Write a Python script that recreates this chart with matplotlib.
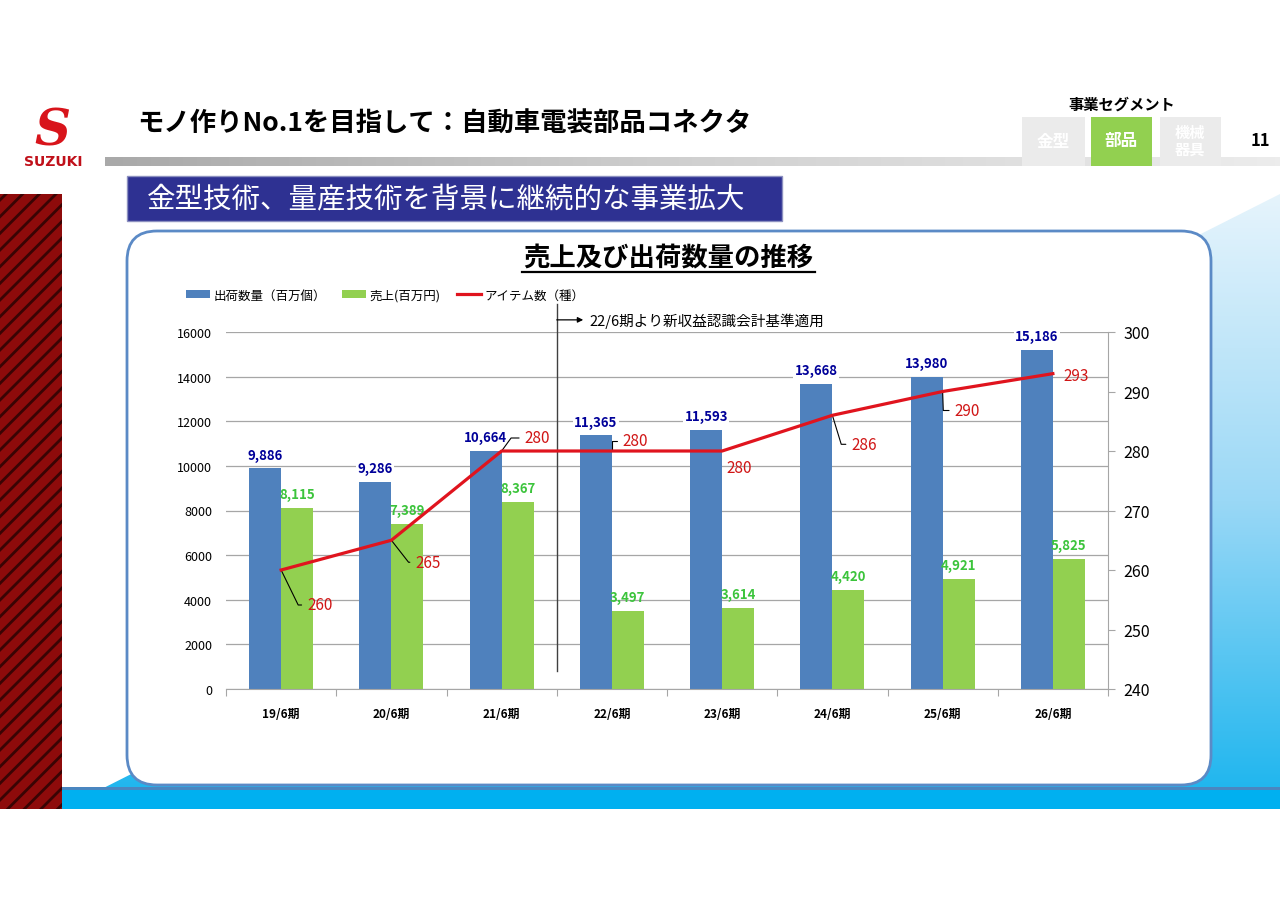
import numpy as np
import matplotlib
matplotlib.use('Agg')
import matplotlib.pyplot as plt
from matplotlib.patches import Rectangle, FancyBboxPatch, Polygon, Patch
from matplotlib.lines import Line2D
from matplotlib.colors import LinearSegmentedColormap

plt.rcParams['font.family'] = ['Noto Sans CJK JP', 'DejaVu Sans']
plt.rcParams['hatch.linewidth'] = 2

# データ
periods = ['19/6期', '20/6期', '21/6期', '22/6期', '23/6期', '24/6期', '25/6期', '26/6期']
shipments = [9886, 9286, 10664, 11365, 11593, 13668, 13980, 15186]   # 出荷数量（百万個）
sales = [8115, 7389, 8367, 3497, 3614, 4420, 4921, 5825]             # 売上(百万円)
items = [260, 265, 280, 280, 280, 286, 290, 293]                     # アイテム数（種）

# アイテム数ラベルの位置 (px: 右方向, 上方向) と引き出し線の角度
item_offsets = [(26, -35), (24, -22), (23, 13), (11, 10), (4, -17), (19, -29), (12, -19), (11, -2)]
item_leader = [-64, -52, 54, 90, None, -73, -88, None]

fig = plt.figure(figsize=(12.8, 9.04), dpi=100)

# ---- 背景 (スライド) ----
bg = fig.add_axes([0, 0, 1, 1], zorder=0)
bg.set_xlim(0, 1280)
bg.set_ylim(904, 0)
bg.axis('off')

# 右下の水色グラデーション
cmap = LinearSegmentedColormap.from_list('bl', ['#E6F4FC', '#9AD8F6', '#18B4EE'])
grad = np.linspace(0, 1, 256).reshape(-1, 1)
im = bg.imshow(grad, extent=(62, 1280, 810, 195), cmap=cmap, aspect='auto', zorder=0)
tri = Polygon([(62, 810), (1280, 195), (1280, 810)], closed=True, fc='none', ec='none')
bg.add_patch(tri)
im.set_clip_path(tri)
bg.add_patch(Rectangle((62, 790), 1218, 20, fc='#00B0F0', ec='none', zorder=1))
bg.add_patch(Rectangle((62, 788), 1218, 3, fc='#4A86C0', ec='none', zorder=1))

# 左側の画像部分 (近似)
bg.add_patch(Rectangle((0, 195), 62, 615, fc='#8E0B0B', ec='#3A0404', hatch='//', lw=0, zorder=1))

# タイトル下の灰色バー
hgrad = np.linspace(0, 1, 256).reshape(1, -1)
gcmap = LinearSegmentedColormap.from_list('gr', ['#A9A9A9', '#D0D0D0', '#ECECEC'])
bg.imshow(hgrad, extent=(105, 1280, 167, 158), cmap=gcmap, aspect='auto', zorder=1)

# ロゴ
bg.text(52, 132, 'S', fontsize=36, fontweight='bold', fontstyle='italic', color='#D8141B',
        ha='center', va='center', family=['DejaVu Serif'], zorder=2)
bg.text(53, 162, 'SUZUKI', fontsize=10, fontweight='bold', color='#C0101A',
        ha='center', va='center', family=['DejaVu Sans'], zorder=2)

bg.text(137, 124, 'モノ作りNo.1を目指して：自動車電装部品コネクタ', fontsize=19,
        fontweight='bold', va='center', zorder=2)

bg.add_patch(Rectangle((127, 177), 655, 45, fc='#2E3192', ec='#8C90C0', lw=1, zorder=2))
bg.text(147, 199, '金型技術、量産技術を背景に継続的な事業拡大', fontsize=20.5,
        color='white', va='center', zorder=3)

# 事業セグメント
bg.text(1122, 105, '事業セグメント', fontsize=11, fontweight='bold', ha='center', va='center')
bg.add_patch(Rectangle((1022, 118), 63, 49, fc='#EBEBEB', ec='none', zorder=2))
bg.add_patch(Rectangle((1091, 118), 61, 49, fc='#92D050', ec='none', zorder=2))
bg.add_patch(Rectangle((1160, 118), 61, 49, fc='#EBEBEB', ec='none', zorder=2))
bg.text(1053, 142, '金型', fontsize=12, fontweight='bold', color='white', ha='center', va='center', zorder=3)
bg.text(1121, 141, '部品', fontsize=12, fontweight='bold', color='white', ha='center', va='center', zorder=3)
bg.text(1190, 141, '機械\n器具', fontsize=11, fontweight='bold', color='white', ha='center',
        va='center', linespacing=1.05, zorder=3)
bg.text(1260, 141, '11', fontsize=12, fontweight='bold', ha='center', va='center')

# グラフ枠
bg.add_patch(FancyBboxPatch((127, 232), 1084, 554, boxstyle='round,pad=0,rounding_size=30',
                            fc='white', ec='#5B8AC6', lw=2, zorder=3))
bg.text(668, 259, '売上及び出荷数量の推移', fontsize=19, fontweight='bold',
        ha='center', va='center', zorder=4)
bg.plot([522, 815], [273, 273], color='black', lw=1.6, zorder=4)

# ---- グラフ ----
ax = fig.add_axes([226 / 1280, 1 - 690 / 904, 882 / 1280, 357 / 904], zorder=2)
ax.set_facecolor('none')
ax2 = ax.twinx()

x = np.arange(len(periods))
w = 0.29
ax.bar(x - w / 2, shipments, width=w, color='#4F81BD', zorder=2)
ax.bar(x + w / 2, sales, width=w, color='#92D050', zorder=2)

ax.set_xlim(-0.5, len(periods) - 0.5)
ax.set_ylim(0, 16000)
ax.set_yticks(range(0, 16001, 2000))
ax.yaxis.grid(True, color='#A6A6A6', lw=0.9, zorder=0)
ax.set_axisbelow(True)
for s in ['top', 'left', 'right']:
    ax.spines[s].set_visible(False)
ax.spines['bottom'].set_color('#A6A6A6')
ax.tick_params(axis='y', length=0, pad=10, labelsize=9)
ax.set_xticks(np.arange(-0.5, len(periods)), labels=[])
ax.set_xticks(x, labels=periods, minor=True)
ax.tick_params(axis='x', which='major', length=5, color='#A6A6A6', direction='out')
ax.tick_params(axis='x', which='minor', length=0, pad=13, labelsize=8.5)
for t in ax.get_xticklabels(minor=True):
    t.set_fontweight('bold')

for xi, v in zip(x, shipments):
    ax.annotate(f'{v:,}', xy=(xi - w / 2, v), xytext=(0, 10), textcoords='offset points',
                ha='center', va='center', fontsize=9.5, fontweight='bold', color='#000099',
                bbox=dict(fc='white', ec='none', pad=1), zorder=5)
for xi, v in zip(x, sales):
    ax.annotate(f'{v:,}', xy=(xi + w / 2, v), xytext=(0, 10), textcoords='offset points',
                ha='center', va='center', fontsize=9.5, fontweight='bold', color='#3CC43C',
                zorder=5)

ax2.plot(x, items, color='#E0141E', lw=2.3, zorder=4)
ax2.set_ylim(240, 300)
ax2.set_yticks(range(240, 301, 10))
for s in ['top', 'left', 'bottom']:
    ax2.spines[s].set_visible(False)
ax2.spines['right'].set_color('#A6A6A6')
ax2.tick_params(axis='y', length=5, color='#A6A6A6', pad=6, labelsize=11.5)

for xi, v, (dx, dy), ang in zip(x, items, item_offsets, item_leader):
    props = None
    if ang is not None:
        props = dict(arrowstyle='-', color='black', lw=0.8, shrinkA=2, shrinkB=0,
                     relpos=(0, 0.5), connectionstyle=f'angle,angleA=0,angleB={ang},rad=0')
    ax2.annotate(str(v), xy=(xi, v), xytext=(dx * 0.72, dy * 0.72), textcoords='offset points',
                 ha='left', va='center', fontsize=11, color='#D01515', arrowprops=props)

# 22/6期の区切り線と注記
trans = ax.get_xaxis_transform()
ax.plot([2.5, 2.5], [0.05, 1.078], transform=trans, color='#404040', lw=1, clip_on=False)
ax.annotate('', xy=(2.74, 1.034), xytext=(2.5, 1.034), xycoords=trans, textcoords=trans,
            arrowprops=dict(arrowstyle='-|>', color='black', lw=0.9, mutation_scale=8,
                            shrinkA=0, shrinkB=0))
ax.text(2.80, 1.034, '22/6期より新収益認識会計基準適用', transform=trans, fontsize=10.5,
        va='center', ha='left')

# 凡例
handles = [Patch(fc='#4F81BD', ec='none'), Patch(fc='#92D050', ec='none'),
           Line2D([0], [0], color='#E0141E', lw=2.3)]
ax.legend(handles, ['出荷数量（百万個）', '売上(百万円)', 'アイテム数（種）'], ncol=3,
          loc='center left', bbox_to_anchor=(186 / 1280, 1 - 296 / 904),
          bbox_transform=fig.transFigure, frameon=False, fontsize=9,
          handlelength=1.9, handleheight=0.55, handletextpad=0.3, columnspacing=1.3,
          borderpad=0, borderaxespad=0)

fig.savefig('out.png', dpi=100)
